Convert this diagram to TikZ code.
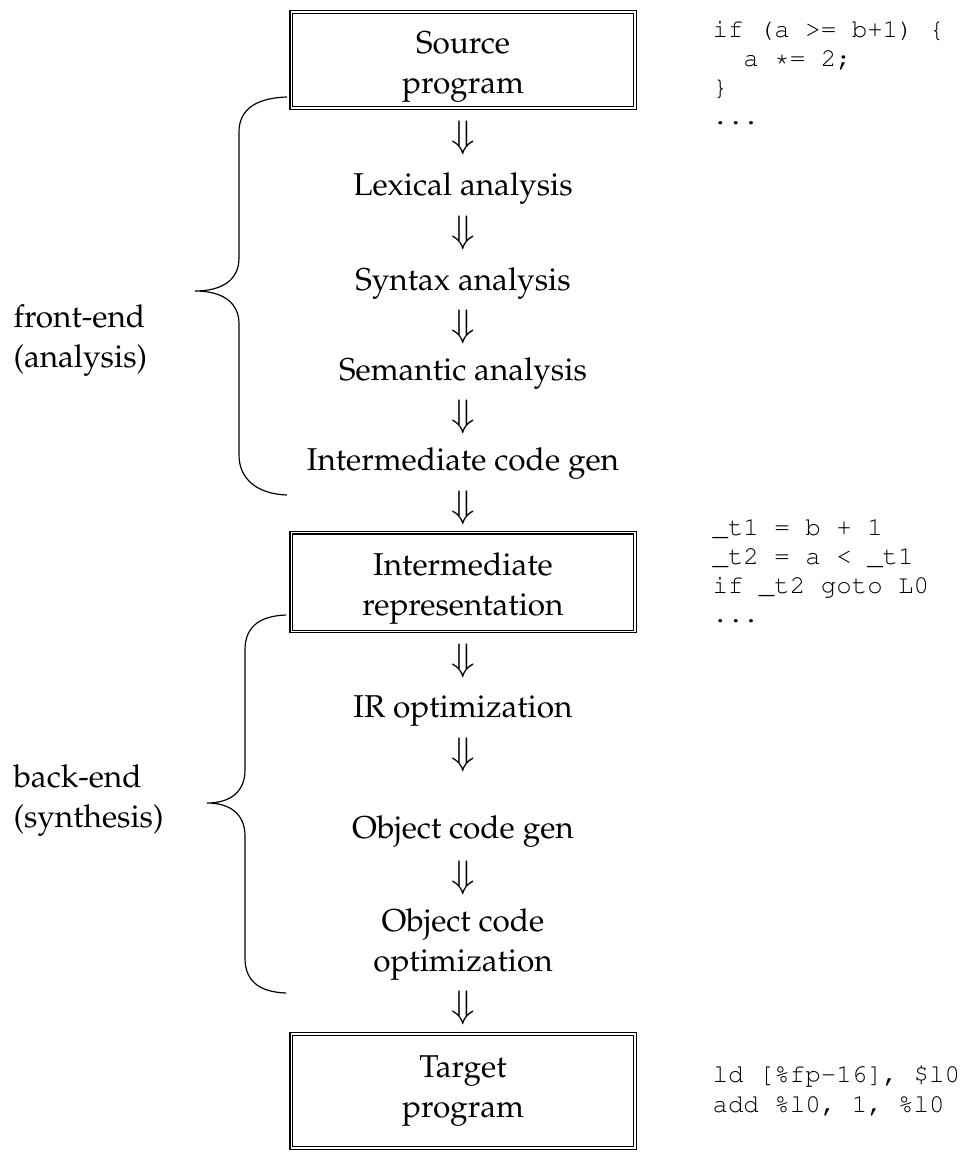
\documentclass[tikz,border=0pt]{standalone}
\usepackage[T1]{fontenc}
\usepackage{mathpazo}
\usepackage{courier}
\begin{document}
\begin{tikzpicture}[x=0.38pt,y=-0.38pt,
    font=\fontsize{12}{15.2}\selectfont,
    stagebox/.style={draw,double,double distance=0.7pt,line width=0.4pt,
      minimum width=130.4pt,minimum height=36.6pt,align=center,inner sep=0pt},
    stage/.style={align=center,inner sep=0pt,text depth=0pt},
    down/.style={inner sep=0pt,font=\fontsize{14}{15}\selectfont},
    side/.style={anchor=west,align=left,inner sep=0pt},
    listing/.style={anchor=north west,align=left,inner sep=0pt,
      font=\ttfamily\fontsize{9.8}{11.1}\selectfont}]
    \useasboundingbox (0,0) rectangle (969,1152);
    % front-end
    \node [stagebox] (src) at (463,60) {\rule{0pt}{13.5pt}Source\\program};
    \node [down] (d1) at (463,138) {$\Downarrow$};
    \node [stage] (lex) at (463,184.5) {Lexical analysis};
    \node [down] (d2) at (463,233) {$\Downarrow$};
    \node [stage] (syn) at (463,279.5) {Syntax analysis};
    \node [down] (d3) at (463,327) {$\Downarrow$};
    \node [stage] (sem) at (463,369.5) {Semantic analysis};
    \node [down] (d4) at (463,417) {$\Downarrow$};
    \node [stage] (icg) at (463,459.5) {Intermediate code gen};
    \node [down] (d5) at (463,508) {$\Downarrow$};
    % back-end
    \node [stagebox,minimum height=37.6pt] (ir) at (463,582) {\rule{0pt}{13.5pt}Intermediate\\representation};
    \node [down] (d6) at (463,661) {$\Downarrow$};
    \node [stage] (iro) at (463,706.5) {IR optimization};
    \node [down] (d7) at (463,755) {$\Downarrow$};
    \node [stage] (ocg) at (463,827.5) {Object code gen};
    \node [down] (d8) at (463,878) {$\Downarrow$};
    \node [stage] (oco) at (463,940.5) {Object code\\optimization};
    \node [down] (d9) at (463,1008) {$\Downarrow$};
    \node [stagebox,minimum height=43.3pt] (tgt) at (463,1091) {Target\\program};
    % braces
    \draw [line width=0.45pt] (287,97) .. controls (255,98) and (239,110) .. (239,132)
      -- (239,258) .. controls (239,280) and (222,291) .. (195,291)
      .. controls (222,291) and (239,302) .. (239,324)
      -- (239,455) .. controls (239,478) and (256,494) .. (287,495);
    \draw [line width=0.45pt] (286,615) .. controls (258,616) and (245,628) .. (245,650)
      -- (245,770) .. controls (245,792) and (230,803) .. (207,803)
      .. controls (230,803) and (245,814) .. (245,836)
      -- (245,958) .. controls (245,980) and (258,992) .. (286,993);
    \node [side] (fe) at (13,341) {front-end\\(analysis)};
    \node [side] (be) at (13,801) {back-end\\(synthesis)};
    % code samples
    \node [listing] (srccode) at (712,20) {if (a >= b+1) \{\\\ \ a *= 2;\\\}\\...};
    \node [listing] (ircode) at (712,518) {\_t1 = b + 1\\\_t2 = a < \_t1\\if \_t2 goto L0\\...};
    \node [listing] (tgtcode) at (712,1065) {ld [\%fp-16], \$l0\\add \%l0, 1, \%l0};
\end{tikzpicture}
\end{document}
